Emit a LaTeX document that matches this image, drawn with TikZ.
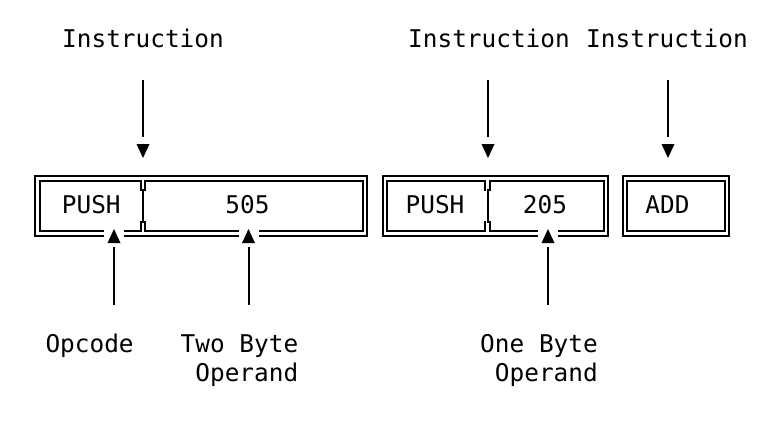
\documentclass[tikz,border=0pt]{standalone}
\usepackage{fontspec}
\setmonofont{DejaVu Sans Mono}
\usetikzlibrary{calc}

\begin{document}
\begin{tikzpicture}[
    x=0.5pt, y=-0.5pt,
    txt/.style={font=\fontsize{12.2pt}{14.2pt}\selectfont\ttfamily, inner sep=0pt, anchor=base, align=left},
    wire/.style={line width=1pt},
    stem/.style={line width=1pt},
    tipfill/.style={fill=black},
    gapfill/.style={fill=white}
]
    \useasboundingbox (0,0) rectangle (770,420);

    % labels on top
    \node[txt] (instrA) at (143,47) {Instruction};
    \node[txt] (instrB) at (489,47) {Instruction};
    \node[txt] (instrC) at (667,47) {Instruction};

    % first PUSH, two byte operand
    \draw[wire] (35,176) rectangle (367,235.5);
    \draw[wire] (140.5,191) -- (140.5,181) -- (39.5,181) -- (39.5,231) -- (140.5,231) -- (140.5,221);
    \draw[wire] (145,191) -- (145,181) -- (362.5,181) -- (362.5,231) -- (145,231) -- (145,221);
    \draw[wire] (142.75,189) -- (142.75,223);
    \node[txt] (pushA) at (91.3,213.3) {PUSH};
    \node[txt] (argA) at (247.5,213.3) {505};

    % second PUSH, one byte operand
    \draw[wire] (382.5,176) rectangle (608,235.5);
    \draw[wire] (485.2,191) -- (485.2,181) -- (387,181) -- (387,231) -- (485.2,231) -- (485.2,221);
    \draw[wire] (489.8,191) -- (489.8,181) -- (603.5,181) -- (603.5,231) -- (489.8,231) -- (489.8,221);
    \draw[wire] (487.5,189) -- (487.5,223);
    \node[txt] (pushB) at (435,213.3) {PUSH};
    \node[txt] (argB) at (545,213.3) {205};

    % ADD
    \draw[wire] (622.7,176) rectangle (729,235.5);
    \draw[wire] (627.3,181) rectangle (724.5,231);
    \node[txt] (add) at (667.5,213.3) {ADD};

    % labels below (base = last line)
    \node[txt] (opcode) at (89.6,352.5) {Opcode};
    \node[txt] (twobyte) at (239.5,381) {Two Byte\\~Operand};
    \node[txt] (onebyte) at (539,381) {One Byte\\~Operand};

    % down arrows
    \coordinate (tA) at (143,144);
    \coordinate (tB) at (488,144);
    \coordinate (tC) at (668,144);
    \fill[tipfill] ($(tA)+(-6.5,0)$) -- ($(tA)+(6.5,0)$) -- ($(tA)+(0,14)$) -- cycle;
    \fill[tipfill] ($(tB)+(-6.5,0)$) -- ($(tB)+(6.5,0)$) -- ($(tB)+(0,14)$) -- cycle;
    \fill[tipfill] ($(tC)+(-6.5,0)$) -- ($(tC)+(6.5,0)$) -- ($(tC)+(0,14)$) -- cycle;
    \draw[stem, shorten <=16.5pt, shorten >=3.5pt] (tA |- instrA.base) -- (tA);
    \draw[stem, shorten <=16.5pt, shorten >=3.5pt] (tB |- instrB.base) -- (tB);
    \draw[stem, shorten <=16.5pt, shorten >=3.5pt] (tC |- instrC.base) -- (tC);

    % up arrows
    \coordinate (bA) at (114,243);
    \coordinate (bB) at (248.5,243);
    \coordinate (bC) at (548,243);
    \fill[gapfill] ($(bA)+(-10,-17)$) rectangle ($(bA)+(10,0)$);
    \fill[gapfill] ($(bB)+(-10,-17)$) rectangle ($(bB)+(10,0)$);
    \fill[gapfill] ($(bC)+(-10,-17)$) rectangle ($(bC)+(10,0)$);
    \fill[tipfill] ($(bA)+(-6.5,0)$) -- ($(bA)+(6.5,0)$) -- ($(bA)+(0,-14)$) -- cycle;
    \fill[tipfill] ($(bB)+(-6.5,0)$) -- ($(bB)+(6.5,0)$) -- ($(bB)+(0,-14)$) -- cycle;
    \fill[tipfill] ($(bC)+(-6.5,0)$) -- ($(bC)+(6.5,0)$) -- ($(bC)+(0,-14)$) -- cycle;
    \draw[stem, shorten <=2pt, shorten >=23.75pt] (bA) -- (bA |- opcode.base);
    \draw[stem, shorten <=2pt, shorten >=38pt] (bB) -- (bB |- twobyte.base);
    \draw[stem, shorten <=2pt, shorten >=38pt] (bC) -- (bC |- onebyte.base);
\end{tikzpicture}
\end{document}
